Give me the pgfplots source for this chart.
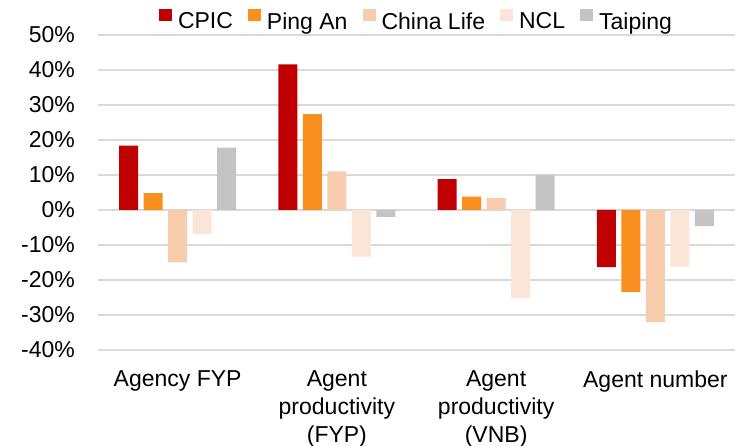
\documentclass[border=0pt]{standalone}
\usepackage{fontspec}
\setmainfont{Liberation Sans}
\usepackage{pgfplots}
\pgfplotsset{compat=1.18}

\definecolor{cpic}{HTML}{C00000}
\definecolor{pingan}{HTML}{F98F1F}
\definecolor{chinalife}{HTML}{F8CDAE}
\definecolor{ncl}{HTML}{FBE5D6}
\definecolor{taiping}{HTML}{C4C4C4}
\definecolor{gridgray}{HTML}{D9D9D9}

\newcommand{\chartfont}{\fontsize{23}{28}\selectfont}

\begin{document}
\begin{tikzpicture}
\begin{axis}[
  scale only axis,
  width=637pt, height=315pt,
  ybar=5.5pt, bar width=19pt,
  xmin=-0.5, xmax=3.5,
  ymin=-40, ymax=50,
  ytick={-40,-30,...,50},
  xtick={0,1,2,3},
  xticklabels={Agency FYP, Agent\\productivity\\(FYP), Agent\\productivity\\(VNB), Agent number},
  ymajorgrids=true,
  grid style={gridgray, line width=1.3pt},
  axis line style={draw=none},
  major tick style={draw=none},
  /pgf/number format/assume math mode=true,
  yticklabel={\pgfmathprintnumber{\tick}\%},
  yticklabel style={font=\chartfont, inner sep=0pt, anchor=east, xshift=-23pt},
  xticklabel style={font=\chartfont, inner sep=0pt, align=center, anchor=north, yshift=-16pt},
  legend columns=5,
  legend style={at={(axis description cs:0.5,1)}, anchor=south, yshift=2pt,
    draw=none, font=\chartfont, inner sep=0pt,
    /tikz/every odd column/.append style={column sep=4pt},
    /tikz/every even column/.append style={column sep=13pt}},
  legend image code/.code={\fill[#1] (0pt,0.5pt) rectangle (13pt,12.5pt);},
]
\addplot[fill=cpic, draw=none] coordinates {(0,18.4) (1,41.6) (2,8.8) (3,-16.3)};
\addlegendentry{CPIC}
\addplot[fill=pingan, draw=none] coordinates {(0,4.8) (1,27.4) (2,3.8) (3,-23.4)};
\addlegendentry{Ping An}
\addplot[fill=chinalife, draw=none] coordinates {(0,-15.0) (1,11.0) (2,3.4) (3,-32.0)};
\addlegendentry{China Life}
\addplot[fill=ncl, draw=none] coordinates {(0,-6.9) (1,-13.3) (2,-25.2) (3,-16.2)};
\addlegendentry{NCL}
\addplot[fill=taiping, draw=none] coordinates {(0,17.8) (1,-2.0) (2,10.0) (3,-4.6)};
\addlegendentry{Taiping}
\end{axis}
\pgfresetboundingbox
\path ([xshift=-98pt,yshift=-96pt]current axis.south west) rectangle ([xshift=15pt,yshift=35pt]current axis.north east);
\end{tikzpicture}
\end{document}
